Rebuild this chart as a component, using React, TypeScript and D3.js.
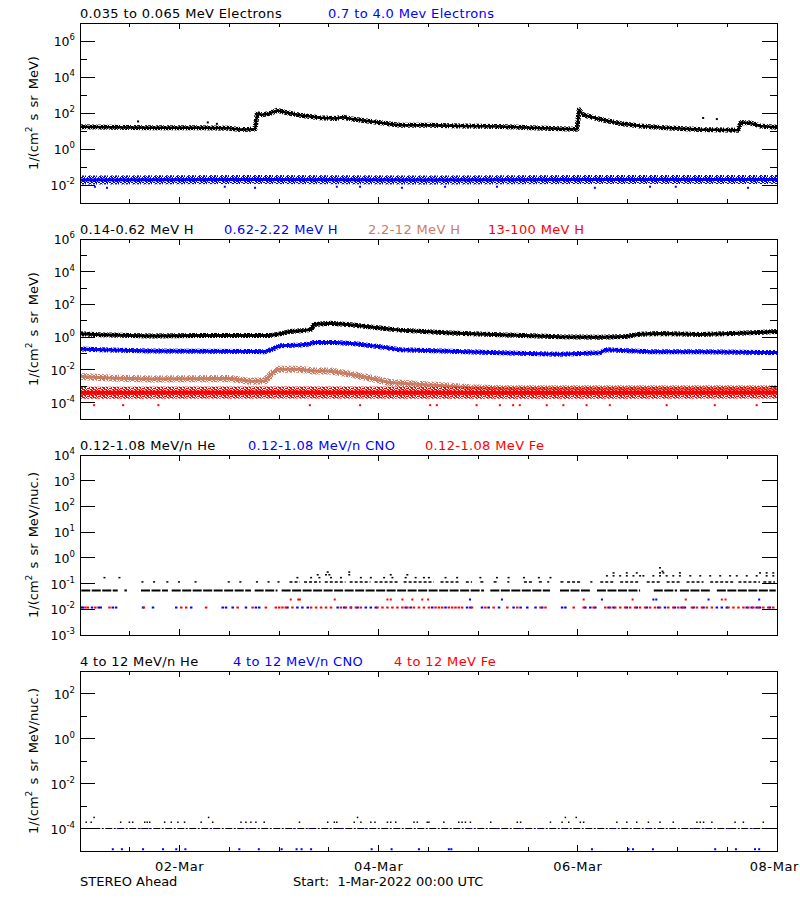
import * as d3 from "d3";
import * as React from "react";

// ---- time axis: hours since 1-Mar-2022 00:00 UTC
const startMs = Date.UTC(2022, 2, 1);
const spanHours = 168;

// ---- panel 1: electrons
const eLowT = [0, 7.2, 16.9, 28.9, 36.2, 38.6, 41, 42.2, 42.7, 43.9, 45.8, 47.5, 49.4, 53, 57.8, 61.5, 63.4, 65.1, 71.1, 77.1, 84.4, 91.6, 101.2, 108.5, 115.7, 119.8, 120.3, 121.2, 125.3, 130.2, 135, 141, 149.4, 158.6, 159.3, 161.5, 163.9, 168];
const eLowV = [17, 16, 15, 15, 14, 12, 12.5, 13, 90, 80, 95, 140, 110, 75, 55, 50, 58, 48, 32, 21, 21, 19, 18, 15, 13.5, 12.5, 150, 80, 45, 26, 19, 15, 12, 11, 30, 28, 19, 16];
const eLowOutT = [14, 30.8, 33, 150.2, 153.5];
const eLowOutV = [34, 30, 25, 53, 46];
const eHighT = [0, 42, 84, 126, 168];
const eHighV = [0.019, 0.02, 0.019, 0.02, 0.02];
const eHighOutT = [3.6, 6.5, 34.9, 42.2, 61.9, 67.5, 77.6, 88, 100.5, 124.1, 137.4, 143.6, 161];
const eHighOutV = [0.008, 0.007, 0.008, 0.007, 0.008, 0.008, 0.007, 0.008, 0.008, 0.007, 0.008, 0.008, 0.007];

// ---- panel 2: protons
const hBlackT = [0, 4.8, 16.9, 28.9, 45.8, 48.2, 50.6, 54.2, 55.7, 56.4, 60.3, 65.1, 72.3, 77.1, 89.2, 101.2, 115.7, 125.3, 131.4, 135, 139.8, 149.4, 159.1, 168];
const hBlackV = [1.6, 1.4, 1.2, 1.25, 1.25, 1.6, 2.2, 2.6, 3.0, 6.0, 7.2, 5.8, 3.6, 2.7, 1.8, 1.4, 1.05, 1.0, 1.1, 1.5, 1.7, 1.45, 1.75, 2.2];
const hBlueT = [0, 4.8, 16.9, 44.6, 46.3, 48.2, 53, 55.2, 56.2, 61.5, 66.3, 72.3, 77.1, 89.2, 101.2, 115.7, 125.3, 126.8, 137.4, 149.4, 168];
const hBlueV = [0.19, 0.17, 0.145, 0.13, 0.18, 0.3, 0.33, 0.38, 0.47, 0.48, 0.4, 0.26, 0.17, 0.14, 0.11, 0.09, 0.11, 0.17, 0.13, 0.13, 0.115];
const hBrownT = [0, 7.2, 16.9, 36.2, 41, 44.6, 46.3, 47.7, 53, 56.2, 60.3, 65.1, 69.9, 74.7, 81.9, 86.8, 94, 101.2, 168];
const hBrownV = [0.004, 0.0032, 0.0028, 0.003, 0.002, 0.0022, 0.006, 0.011, 0.011, 0.0085, 0.0085, 0.0055, 0.0032, 0.0017, 0.0013, 0.0011, 0.0008, 0.0007, 0.0007];
const hRedT = [0, 56, 112, 168];
const hRedV = [0.0004, 0.00042, 0.0004, 0.00041];
const hRedOutT = [3.4, 10.4, 18.9, 55.4, 67.5, 84.4, 86, 95.6, 101.2, 104.4, 106, 112.5, 116.5, 122.1, 127.7, 141.4, 153, 163.1];
const hRedOutV = 0.00007;

// ---- panel 3: 0.12-1.08 MeV/n heavy ions (count levels)
const heBase = 0.054;
const heBaseRuns = [[0.3, 9.1], [10.7, 11.3], [14.7, 21.2], [22.1, 41.2], [42.1, 47.6], [48.6, 97.4], [98.9, 113.3], [115.7, 122.9], [124.6, 135], [138.3, 143.9], [144.6, 151.8], [153.5, 167.7]];
const heMid = 0.116;
const heMidRuns = [[14.8, 15.3], [17.6, 18.1], [20.8, 21.3], [23.6, 24.1], [27.6, 28.1], [35.6, 36.1], [38.4, 38.9], [42.4, 42.9], [45.2, 45.7], [47.6, 48.1], [50.5, 53], [54, 58], [59, 64], [65, 70], [71, 77], [78, 84], [84, 85.3], [86.9, 91.7], [93, 94.5], [96.5, 97.7], [99.7, 100.9], [103, 103.5], [107, 109.4], [110.6, 111.4], [112.6, 113.1], [115.8, 116.6], [117.4, 120.6], [123, 123.5], [125.4, 128.6], [130.2, 135], [136.6, 139.8], [141.4, 144.6], [146.2, 150.3], [151.9, 157.5], [158.7, 163.9], [164.7, 167.5]];
const heHighT = [5.9, 9.5, 52.4, 55.7, 57.7, 60.5, 62.9, 67.7, 70.1, 73.3, 75.3, 78.5, 80.9, 82.9, 57.3, 59.3, 60.1, 64.9, 74.9, 78.9, 59.7, 64.9, 84.1, 88.1, 90.9, 96.5, 100.5, 103.3, 107, 110.6, 113.4, 127, 128.6, 130.2, 131.8, 133.4, 135, 135.8, 138.2, 139.8, 141.4, 143, 144.6, 147.1, 149.5, 151.9, 154.3, 156.7, 158.3, 160.7, 163.1, 165.5, 167.1, 128.6, 131.8, 134.2, 139.8, 140.6, 144.6, 163.9, 165.5, 167.1, 139.8, 140.4];
const heHighV = [0.17, 0.17, 0.17, 0.17, 0.17, 0.17, 0.17, 0.17, 0.17, 0.17, 0.17, 0.17, 0.17, 0.17, 0.22, 0.22, 0.22, 0.22, 0.22, 0.22, 0.28, 0.28, 0.17, 0.17, 0.17, 0.17, 0.17, 0.17, 0.17, 0.17, 0.17, 0.2, 0.2, 0.2, 0.2, 0.2, 0.2, 0.2, 0.2, 0.2, 0.2, 0.2, 0.2, 0.2, 0.2, 0.2, 0.2, 0.2, 0.2, 0.2, 0.2, 0.2, 0.2, 0.26, 0.26, 0.26, 0.26, 0.26, 0.26, 0.26, 0.26, 0.26, 0.41, 0.3];
const ionLow = 0.0117;
const ionUp = 0.024;
const cnoLowT = [0.3, 0.7, 2.9, 4.5, 5, 7.9, 8.7, 15.2, 17.6, 23.2, 26.8, 34.4, 35.2, 36.8, 40, 42.4, 43.2, 50, 52.4, 53.6, 54.9, 62.1, 63.7, 65.3, 66.9, 68.9, 70.1, 71.3, 78.5, 79.7, 84.9, 88.1, 93.3, 94.1, 96.9, 98.5, 101, 104.5, 106.2, 107.8, 109.8, 111.4, 116.2, 117, 121.8, 123, 124.2, 127.4, 128.6, 131.8, 134.2, 136.6, 139.4, 141, 143.4, 145, 145.8, 147.9, 150.3, 153.5, 154.7, 155.9, 160.7, 161.9, 163.1, 163.9, 166.3];
const feLowT = [1.3, 1.9, 3.7, 7.1, 15.4, 24.4, 25.6, 30.4, 38, 41.6, 44.8, 47.2, 48, 48.8, 49.6, 51.2, 55.7, 56.9, 58.1, 59.3, 60.5, 62.9, 64.1, 65.3, 66.5, 67.7, 71.7, 72.9, 74.1, 75.3, 76.5, 77.7, 78.9, 80.5, 81.7, 82.9, 84.1, 85.7, 86.5, 87.3, 88.9, 89.7, 90.5, 91.3, 92.1, 94.5, 97.7, 99.7, 103, 105.4, 111, 112.2, 119, 121.4, 123.8, 126.6, 127.8, 129, 130.2, 131.4, 132.6, 133.8, 135, 136.2, 137.4, 138.6, 139.8, 141.8, 143, 144.2, 145.4, 147.5, 148.7, 149.9, 151.1, 152.3, 156.3, 157.5, 158.7, 159.9, 161.1, 162.3, 163.5, 164.7, 165.9, 167.1];
const feUpT = [50.8, 52.6, 53, 61.4, 74.1, 74.9, 77.7, 80.1, 82.5, 83.9, 121.4, 133.2, 146, 154.7, 155.6];
const cnoUpT = [94, 101.7, 125.8, 138.2, 138.9, 151.5, 163.7];

// ---- panel 4: 4-12 MeV/n heavy ions
const he4Base = 0.0001;
const he4Runs = [[0.3, 167.5]];
const he4UpT = [1.5, 2.7, 9.8, 11.9, 12.7, 15.6, 16.2, 16.8, 20.4, 22, 23.6, 25.2, 29.2, 32, 38.8, 40, 41.2, 42.4, 44.4, 52.9, 59.7, 61.3, 61.9, 66.1, 67.7, 70.1, 71.1, 74.1, 74.9, 76.1, 80.5, 81.3, 83.7, 84.1, 87.7, 91.3, 92.1, 92.9, 94.1, 99, 105.4, 106.2, 113.4, 116.2, 117.8, 120.6, 121.4, 129.4, 131.8, 134.2, 137, 139.8, 143, 148.7, 149.5, 150.3, 152.3, 157.9, 159.9, 164.7, 3.4, 31, 66.9, 117, 119.6];
const he4UpV = [1.9e-4, 1.9e-4, 1.9e-4, 1.9e-4, 1.9e-4, 1.9e-4, 1.9e-4, 1.9e-4, 1.9e-4, 1.9e-4, 1.9e-4, 1.9e-4, 1.9e-4, 1.9e-4, 1.9e-4, 1.9e-4, 1.9e-4, 1.9e-4, 1.9e-4, 1.9e-4, 1.9e-4, 1.9e-4, 1.9e-4, 1.9e-4, 1.9e-4, 1.9e-4, 1.9e-4, 1.9e-4, 1.9e-4, 1.9e-4, 1.9e-4, 1.9e-4, 1.9e-4, 1.9e-4, 1.9e-4, 1.9e-4, 1.9e-4, 1.9e-4, 1.9e-4, 1.9e-4, 1.9e-4, 1.9e-4, 1.9e-4, 1.9e-4, 1.9e-4, 1.9e-4, 1.9e-4, 1.9e-4, 1.9e-4, 1.9e-4, 1.9e-4, 1.9e-4, 1.9e-4, 1.9e-4, 1.9e-4, 1.9e-4, 1.9e-4, 1.9e-4, 1.9e-4, 1.9e-4, 3.1e-4, 3.1e-4, 3.1e-4, 3.1e-4, 3.1e-4];
const cno4LineT = [1.9, 9.1, 14.4, 16.8, 31.6, 40.4, 51.6, 55.3, 62.9, 68.9, 94.1, 100.5, 106.2, 110.6, 116.6, 128.6, 137, 147.5, 150.3, 156.3, 161.9];
const cno4Low = 1.2e-5;
const cno4LowT = [7.9, 10.1, 15.2, 20, 23.2, 25.4, 38.4, 43.1, 48.6, 52.2, 53.4, 55.7, 70.3, 75.1, 81.7, 88.9, 89.5, 123.4, 132.2, 133.3, 138.1, 153.1, 158.1, 162.7, 163.7];

const BLACK = "#000000";
const BLUE = "#0000ff";
const RED = "#ff0000";
const BROWN = "#c87d64";
const FONT = "DejaVu Sans";

const X0 = 80;
const X1 = 777;
const PH = 180;

// speckle texture tile (pixel cells), used to make the dense scatter bands look grainy
const SPECKLE = [
  [0, 0, 2], [3, 0, 1], [5, 0, 2], [8, 0, 1], [1, 1, 2], [4, 1, 2], [7, 1, 1], [10, 1, 1],
  [0, 2, 1], [2, 2, 2], [6, 2, 2], [9, 2, 2], [1, 3, 1], [3, 3, 2], [5, 3, 1], [7, 3, 2],
  [0, 4, 2], [4, 4, 2], [8, 4, 1], [10, 4, 1], [2, 5, 2], [5, 5, 1], [6, 5, 2], [9, 5, 1],
  [0, 6, 1], [3, 6, 2], [7, 6, 2], [10, 6, 1], [1, 7, 2], [5, 7, 2], [8, 7, 1],
];

const toDate = (h: number) => new Date(startMs + h * 3600e3);
const x = d3.scaleUtc().domain([toDate(0), toDate(spanHours)]).range([X0, X1]);
const hx = (h: number) => x(toDate(h));

type Title = { text: string; color: string; x: number };

type PanelProps = {
  id: string;
  top: number;
  domain: [number, number];
  labels: number[];
  minors: number[];
  titles: Title[];
  yTitle: string;
  bottomAxis?: boolean;
  draw: (y: d3.ScaleLogarithmic<number, number>) => React.ReactNode;
};

const Panel: React.FC<PanelProps> = ({ id, top, domain, labels, minors, titles, yTitle, bottomAxis, draw }) => {
  const y = d3.scaleLog().domain(domain).range([top + PH, top]);
  const bottom = top + PH;
  const xTicks = x.ticks(d3.utcHour.every(12)!);
  const isMajor = (d: Date) => d.getUTCHours() === 0 && d.getUTCDate() % 2 === 0;

  return (
    <g>
      <defs>
        <clipPath id={id}>
          <rect x={X0} y={top} width={X1 - X0} height={PH} />
        </clipPath>
      </defs>
      <g clipPath={`url(#${id})`}>{draw(y)}</g>
      <rect x={X0} y={top} width={X1 - X0} height={PH} fill="none" stroke={BLACK} strokeWidth={1} shapeRendering="crispEdges" />

      {/* y ticks, both sides */}
      {labels.map((e) => (
        <g key={"l" + e} shapeRendering="crispEdges" stroke={BLACK}>
          <line x1={X0} x2={X0 + 15} y1={y(Math.pow(10, e))} y2={y(Math.pow(10, e))} />
          <line x1={X1 - 15} x2={X1} y1={y(Math.pow(10, e))} y2={y(Math.pow(10, e))} />
        </g>
      ))}
      {minors.map((e) => (
        <g key={"m" + e} shapeRendering="crispEdges" stroke={BLACK}>
          <line x1={X0} x2={X0 + 7} y1={y(Math.pow(10, e))} y2={y(Math.pow(10, e))} />
          <line x1={X1 - 7} x2={X1} y1={y(Math.pow(10, e))} y2={y(Math.pow(10, e))} />
        </g>
      ))}
      {labels.map((e) => (
        <text key={"t" + e} x={75} y={y(Math.pow(10, e)) + 5} textAnchor="end" fontFamily={FONT} fontSize={12.5} fill={BLACK}>
          10<tspan dy={-6} fontSize={8.5}>{String(e)}</tspan>
        </text>
      ))}

      {/* x ticks */}
      {xTicks.map((d, i) => {
        const len = isMajor(d) ? 6 : 4;
        return (
          <g key={"x" + i} shapeRendering="crispEdges" stroke={BLACK}>
            <line x1={x(d)} x2={x(d)} y1={top} y2={top + len} />
            <line x1={x(d)} x2={x(d)} y1={bottom} y2={bottom - len} />
          </g>
        );
      })}
      {bottomAxis &&
        xTicks.filter(isMajor).map((d, i, arr) => {
          const last = i === arr.length - 1;
          return (
            <text
              key={"xl" + i}
              x={last ? 799 : x(d)}
              y={bottom + 19.5}
              textAnchor={last ? "end" : "middle"}
              fontFamily={FONT}
              fontSize={13}
              letterSpacing={0.6}
              fill={BLACK}
            >
              {d3.utcFormat("%d-%b")(d)}
            </text>
          );
        })}

      {titles.map((t, i) => (
        <text key={"ti" + i} x={t.x} y={top - 5.5} fontFamily={FONT} fontSize={13} letterSpacing={0.35} fill={t.color}>
          {t.text}
        </text>
      ))}

      <text
        transform={`translate(38,${top + PH / 2}) rotate(-90)`}
        textAnchor="middle"
        fontFamily={FONT}
        fontSize={13}
        wordSpacing={2}
        fill={BLACK}
      >
        1/(cm<tspan dy={-6} fontSize={9}>2</tspan>
        <tspan dy={6}>{" s sr " + yTitle + ")"}</tspan>
      </text>
    </g>
  );
};

const linePath = (y: d3.ScaleLogarithmic<number, number>, ts: number[], vs: number[]) =>
  d3
    .line<number>()
    .x((_, i) => hx(ts[i]))
    .y((v) => y(v))(vs) ?? "";

// dense scatter band: grainy outer stroke + solid core
const band = (y: d3.ScaleLogarithmic<number, number>, ts: number[], vs: number[], color: string, pat: string, outer: number, core: number) => {
  const d = linePath(y, ts, vs);
  return (
    <g>
      <path d={d} fill="none" stroke={`url(#${pat})`} strokeWidth={outer} strokeLinejoin="round" />
      <path d={d} fill="none" stroke={color} strokeWidth={core} strokeLinejoin="round" />
    </g>
  );
};

const dots = (y: d3.ScaleLogarithmic<number, number>, ts: number[], vs: number[] | number, color: string, w = 2, h = 2) =>
  ts.map((t, i) => {
    const v = Array.isArray(vs) ? vs[i] : vs;
    return <rect key={color + i + "_" + t} x={hx(t) - w / 2} y={y(v) - h / 2} width={w} height={h} fill={color} />;
  });

const runs = (y: d3.ScaleLogarithmic<number, number>, rs: number[][], v: number, color: string, dash: string, w = 2) =>
  rs.map(([a, b], i) => (
    <line key={"r" + i + v} x1={hx(a)} x2={hx(b)} y1={y(v)} y2={y(v)} stroke={color} strokeWidth={w} strokeDasharray={dash} />
  ));

const Speckle: React.FC<{ id: string; color: string }> = ({ id, color }) => (
  <pattern id={id} width={11} height={8} patternUnits="userSpaceOnUse">
    {SPECKLE.map(([px, py, w], i) => (
      <rect key={i} x={px} y={py} width={w} height={1} fill={color} />
    ))}
  </pattern>
);

export default function App() {
  return (
    <div style={{ position: "absolute", left: 0, top: 0 }}>
      <svg width={800} height={900} style={{ display: "block", background: "#fff" }}>
        <defs>
          <Speckle id="sp-black" color={BLACK} />
          <Speckle id="sp-blue" color={BLUE} />
          <Speckle id="sp-red" color={RED} />
          <Speckle id="sp-brown" color={BROWN} />
        </defs>
        <rect width={800} height={900} fill="#fff" />
        <Panel
          id="c1"
          top={23}
          domain={[1e-3, 1e7]}
          labels={[6, 4, 2, 0, -2]}
          minors={[5, 3, 1, -1]}
          yTitle="MeV"
          titles={[
            { text: "0.035 to 0.065 MeV Electrons", color: BLACK, x: 80 },
            { text: "0.7 to 4.0 Mev Electrons", color: BLUE, x: 328 },
          ]}
          draw={(y) => (
            <>
              {band(y, eLowT, eLowV, BLACK, "sp-black", 5, 2.5)}
              {dots(y, eLowOutT, eLowOutV, BLACK)}
              {band(y, eHighT, eHighV, BLUE, "sp-blue", 9, 3)}
              {dots(y, eHighOutT, eHighOutV, BLUE)}
            </>
          )}
        />
        <Panel
          id="c2"
          top={239}
          domain={[1e-5, 1e6]}
          labels={[6, 4, 2, 0, -2, -4]}
          minors={[5, 3, 1, -1, -3]}
          yTitle="MeV"
          titles={[
            { text: "0.14-0.62 MeV H", color: BLACK, x: 80 },
            { text: "0.62-2.22 MeV H", color: BLUE, x: 224 },
            { text: "2.2-12 MeV H", color: BROWN, x: 368 },
            { text: "13-100 MeV H", color: RED, x: 488 },
          ]}
          draw={(y) => (
            <>
              {band(y, hBlackT, hBlackV, BLACK, "sp-black", 5, 3)}
              {band(y, hBlueT, hBlueV, BLUE, "sp-blue", 5, 3)}
              {band(y, hBrownT, hBrownV, BROWN, "sp-brown", 7, 3)}
              {band(y, hRedT, hRedV, RED, "sp-red", 12, 4)}
              {dots(y, hRedOutT, hRedOutV, RED)}
            </>
          )}
        />
        <Panel
          id="c3"
          top={455}
          domain={[1e-3, 1e4]}
          labels={[4, 3, 2, 1, 0, -1, -2, -3]}
          minors={[]}
          yTitle="MeV/nuc."
          titles={[
            { text: "0.12-1.08 MeV/n He", color: BLACK, x: 80 },
            { text: "0.12-1.08 MeV/n CNO", color: BLUE, x: 248 },
            { text: "0.12-1.08 MeV Fe", color: RED, x: 425 },
          ]}
          draw={(y) => (
            <>
              {runs(y, heBaseRuns, heBase, BLACK, "9,1.5", 2)}
              {runs(y, heMidRuns, heMid, BLACK, "3,2", 1.5)}
              {dots(y, heHighT, heHighV, BLACK, 2, 1.5)}
              {dots(y, cnoLowT, ionLow, BLUE, 2.5, 2)}
              {dots(y, feLowT, ionLow, RED, 2.5, 2)}
              {dots(y, feUpT, ionUp, RED, 2, 2)}
              {dots(y, cnoUpT, ionUp, BLUE, 2, 2)}
            </>
          )}
        />
        <Panel
          id="c4"
          top={671}
          domain={[1e-5, 1e3]}
          labels={[2, 0, -2, -4]}
          minors={[1, -1, -3]}
          yTitle="MeV/nuc."
          bottomAxis
          titles={[
            { text: "4 to 12 MeV/n He", color: BLACK, x: 80 },
            { text: "4 to 12 MeV/n CNO", color: BLUE, x: 233 },
            { text: "4 to 12 MeV Fe", color: RED, x: 394 },
          ]}
          draw={(y) => (
            <>
              {runs(y, he4Runs, he4Base, BLACK, "7,1.5,2,1.5", 1)}
              {dots(y, he4UpT, he4UpV, BLACK, 1.5, 1.5)}
              {dots(y, cno4LineT, he4Base, BLUE, 2, 1)}
              {dots(y, cno4LowT, cno4Low, BLUE, 2, 2)}
            </>
          )}
        />
        <text x={80} y={885.5} fontFamily={FONT} fontSize={13} fill={BLACK}>
          STEREO Ahead
        </text>
        <text x={293} y={885.5} fontFamily={FONT} fontSize={13} fill={BLACK} style={{ whiteSpace: "pre" }}>
          {"Start:  1-Mar-2022 00:00 UTC"}
        </text>
      </svg>
    </div>
  );
}
